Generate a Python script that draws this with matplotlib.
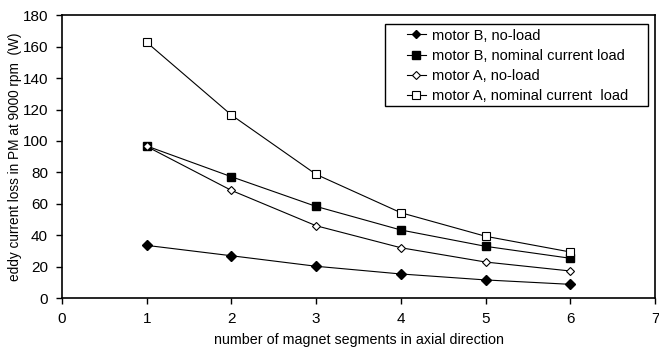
import matplotlib
matplotlib.use("Agg")
import matplotlib.pyplot as plt
from matplotlib.patches import Rectangle

plt.rcParams['font.family'] = ['Liberation Sans', 'DejaVu Sans']

segments = [1, 2, 3, 4, 5, 6]
motorB_noload = [33.5, 26.9, 20.2, 15.3, 11.5, 8.7]
motorB_nominal = [96.8, 77.2, 58.3, 43.3, 32.9, 25.3]
motorA_noload = [96.5, 68.5, 46.0, 32.0, 22.9, 17.2]
motorA_nominal = [162.8, 116.5, 78.7, 54.3, 39.3, 29.3]

labels = ["motor B, no-load", "motor B, nominal current load",
          "motor A, no-load", "motor A, nominal current  load"]

fig = plt.figure(figsize=(6.59, 3.47), dpi=100)
ax = fig.add_axes([62/659, 1-298/347, (655-62)/659, (298-15.3)/347])

lw = 0.8
ax.plot(segments, motorB_noload, color='black', lw=lw, marker='D', ms=4.8,
        mfc='black', mec='black', label=labels[0])
ax.plot(segments, motorB_nominal, color='black', lw=lw, marker='s', ms=6.2,
        mfc='black', mec='black', label=labels[1])
ax.plot(segments, motorA_noload, color='black', lw=lw, marker='D', ms=4.3,
        mfc='white', mec='black', mew=0.8, label=labels[2])
ax.plot(segments, motorA_nominal, color='black', lw=lw, marker='s', ms=6.0,
        mfc='white', mec='black', mew=0.8, label=labels[3])

ax.set_xlim(0, 7)
ax.set_ylim(0, 180)
ax.set_xticks(range(0, 8))
ax.set_yticks(range(0, 181, 20))
ax.tick_params(direction='out', length=4, width=1, labelsize=11, pad=6)
for s in ax.spines.values():
    s.set_linewidth(1.2)

ax.set_xlabel("number of magnet segments in axial direction", fontsize=10.25, labelpad=5)
ax.set_ylabel("eddy current loss in PM at 9000 rpm  (W)", fontsize=9.8, labelpad=0.5)

fig.patches.append(Rectangle((385/659, 1-105.7/347), (648-385)/659, (105.7-24.3)/347,
                             transform=fig.transFigure, fill=False,
                             edgecolor='black', lw=1.0, zorder=5))

leg = ax.legend(loc='upper left', bbox_to_anchor=(407/659, 1-28.5/347),
                bbox_transform=fig.transFigure, fontsize=10.5, frameon=False,
                handlelength=1.3, handletextpad=0.4, borderpad=0.0,
                labelspacing=0.42, borderaxespad=0)
for h in leg.legend_handles:
    h.set_markersize(h.get_markersize() * 0.9)

fig.savefig("out.png", dpi=100)
